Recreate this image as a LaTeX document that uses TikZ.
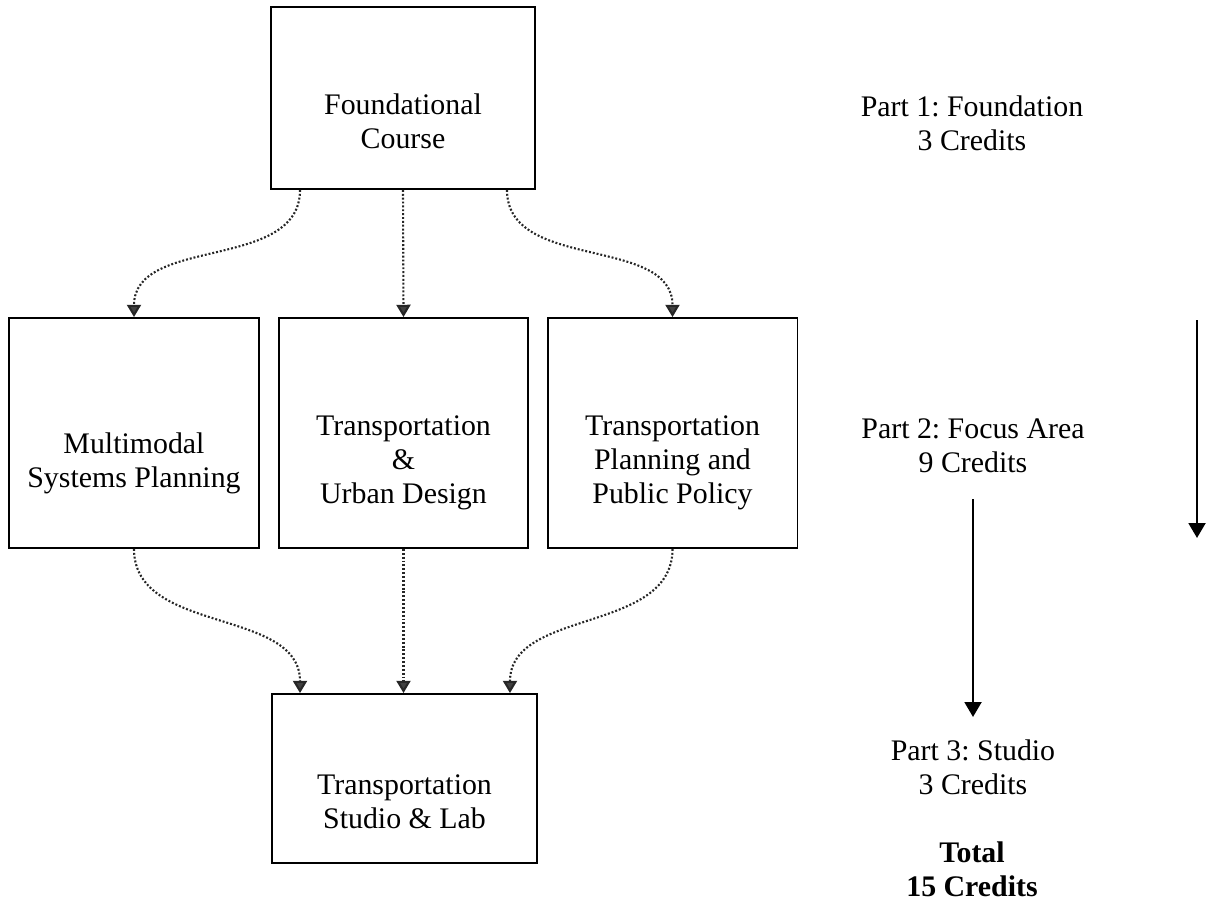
\documentclass[tikz,border=0pt]{standalone}
\usepackage{fontspec}
\setmainfont{Liberation Serif}
\frenchspacing
\usetikzlibrary{arrows.meta}
\tikzset{
  course_box/.style = {rectangle, draw=black, line width=1.1pt, inner sep=0pt},
  mid_box/.style = {course_box, minimum width=5cm, minimum height=4.6cm},% focus area
  course_txt/.style = {align=center, inner sep=0pt,
    font=\fontsize{17}{19.4}\selectfont},
  part_txt/.style = {course_txt},% colonne de droite
  flow_link/.style = {draw=black!85, line width=1.2pt, dash pattern=on 1.1pt off 1.1pt,
    -{Triangle[length=7pt, width=8pt, fill=black!75]}},
  part_arrow/.style = {line width=1.6pt, -{Triangle[length=8.5pt, width=9.5pt]}}
}
\begin{document}
\begin{tikzpicture}[x=0.02cm, y=-0.02cm]
  \useasboundingbox (0,0) rectangle (1209,913);
  % boxes
  \node [course_box, minimum width=5.28cm, minimum height=3.64cm] (fnd) at (403,98) {};
  \node [mid_box] (mms) at (134,433) {};
  \node [mid_box, minimum width=4.98cm] (tud) at (403.5,433) {};
  \node [mid_box] (tpp) at (672.5,433) {};
  \node [course_box, minimum width=5.3cm, minimum height=3.38cm] (tsl) at (404.5,778.5) {};
  \node [course_txt] (fnd_txt) at (403,121) {Foundational\\Course};
  \node [course_txt] (mms_txt) at (134,463) {Multimodal\\Systems Planning};
  \node [course_txt] (tud_txt) at (403.5,463) {Transportation\\\&\\Urban Design};
  \node [course_txt] (tpp_txt) at (672.5,463) {Transportation\\Planning and\\Public Policy};
  \node [course_txt] (tsl_txt) at (404.5,802) {Transportation\\Studio \& Lab};
  % links
  \draw [flow_link] ([xshift=-2.06cm]fnd.south) to[out=-90, in=90] (mms.north);
  \draw [flow_link] (fnd.south) -- (tud.north);
  \draw [flow_link] ([xshift=2.08cm]fnd.south) to[out=-90, in=90] (tpp.north);
  \draw [flow_link] (mms.south) to[out=-90, in=90] ([xshift=-2.09cm]tsl.north);
  \draw [flow_link] (tud.south) -- (tud.south |- tsl.north);
  \draw [flow_link] (tpp.south) to[out=-90, in=90] ([xshift=2.11cm]tsl.north);
  % parts
  \node [part_txt] (p1) at (972,123.5) {Part 1: Foundation\\3 Credits};
  \node [part_txt] (p2) at (973,445.5) {Part 2: Focus Area\\9 Credits};
  \node [part_txt] (p3) at (973,767.5) {Part 3: Studio\\3 Credits};
  \node [part_txt, font=\fontsize{17}{19.4}\selectfont\bfseries] (tot) at (972,869.5) {Total\\15 Credits};
  \coordinate (a1) at (1197,320);
  \coordinate (b1) at (1197,538);
  \coordinate (a2) at (973,499);
  \coordinate (b2) at (973,717);
  \draw [part_arrow] (a1) -- (b1);
  \draw [part_arrow] (a2) -- (b2);
\end{tikzpicture}
\end{document}
